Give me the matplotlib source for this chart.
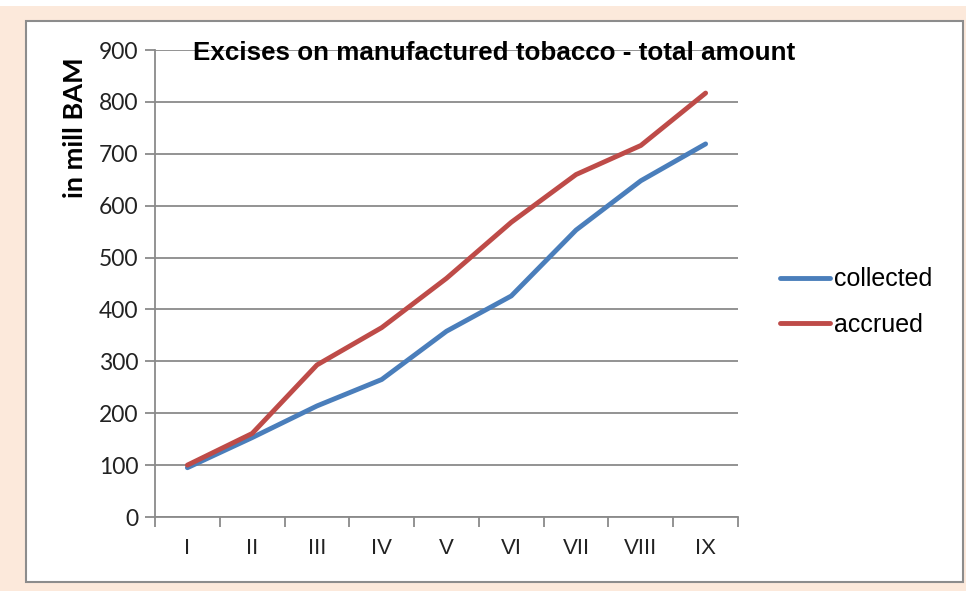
import matplotlib
matplotlib.use("Agg")
from matplotlib import pyplot as plt
from matplotlib.patches import Rectangle
from matplotlib import font_manager

months = ["I", "II", "III", "IV", "V", "VI", "VII", "VIII", "IX"]
collected = [95, 153, 214, 265, 358, 426, 553, 648, 719]
accrued = [100, 161, 293, 365, 460, 568, 660, 716, 817]
y_ticks = [0, 100, 200, 300, 400, 500, 600, 700, 800, 900]

GRID = "#8a8a8a"
BLUE = "#4a7ebb"
RED = "#be4b48"
PEACH = "#fce9db"

installed = {f.name for f in font_manager.fontManager.ttflist}
narrow = "Liberation Sans Narrow" if "Liberation Sans Narrow" in installed else "Liberation Sans"

fig = plt.figure(figsize=(9.66, 5.91), dpi=100, facecolor=PEACH)
W, H = 966, 591

# white strip along the top edge and the framed white panel
fig.patches.append(Rectangle((0, 1 - 6 / H), 1, 6 / H, transform=fig.transFigure,
                             facecolor="white", edgecolor="none", zorder=-2))
fig.patches.append(Rectangle((26 / W, 1 - 582 / H), (963 - 26) / W, (582 - 21) / H,
                             transform=fig.transFigure, facecolor="white",
                             edgecolor="#8c8c8c", linewidth=1.5, zorder=-2))

ax = fig.add_axes([155 / W, 1 - 517 / H, (738 - 155) / W, (517 - 50) / H])
ax.set_facecolor("none")

x = list(range(len(months)))
ax.plot(x, collected, color=BLUE, linewidth=3.5, label="collected", zorder=3,
        solid_joinstyle="round", solid_capstyle="round")
ax.plot(x, accrued, color=RED, linewidth=3.5, label="accrued", zorder=3,
        solid_joinstyle="round", solid_capstyle="round")

ax.set_xlim(-0.5, len(months) - 0.5)
ax.set_ylim(0, 900)
ax.set_yticks(y_ticks)
ax.yaxis.grid(True, color=GRID, linewidth=1.3)
ax.set_axisbelow(True)

ax.set_xticks(x)
ax.set_xticklabels(months, fontsize=16, family=narrow, color="#222222")
ax.set_xticks([i - 0.5 for i in range(len(months) + 1)], minor=True)
ax.tick_params(axis="x", which="major", length=0, pad=15)
ax.tick_params(axis="x", which="minor", length=7, color=GRID, width=1.3, direction="out")
ax.tick_params(axis="y", length=7, color=GRID, width=1.3, pad=5)
for lab in ax.get_yticklabels():
    lab.set_fontsize(16.5)
    lab.set_family("Lato")
    lab.set_color("#222222")

for side in ("top", "right"):
    ax.spines[side].set_visible(False)
for side in ("left", "bottom"):
    ax.spines[side].set_color(GRID)
    ax.spines[side].set_linewidth(1.3)

fig.text(75 / W, 1 - 128 / H, "in mill BAM", rotation=90, ha="center", va="center",
         fontsize=19.5, fontweight="bold", family="Lato")
fig.text(494 / W, 1 - 53 / H, "Excises on manufactured tobacco - total amount",
         ha="center", va="center", fontsize=18.7, fontweight="bold", family="Liberation Sans")

leg = fig.legend(loc="center left", bbox_to_anchor=(770 / W, 1 - 302 / H), frameon=False,
                 prop={"family": "Liberation Sans", "size": 18}, handlelength=2.0,
                 handletextpad=0.15, labelspacing=0.85, borderaxespad=0)

fig.savefig("out.png", dpi=100, facecolor=PEACH)
